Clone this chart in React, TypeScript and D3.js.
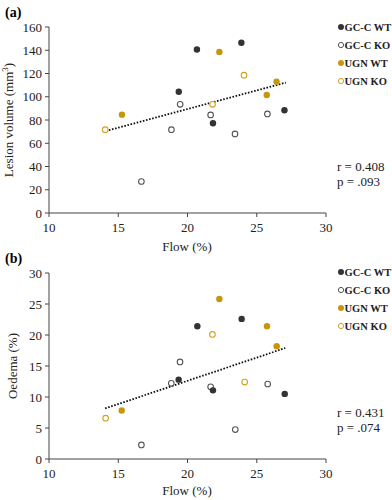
import React from "react";
import * as d3 from "d3";

type Pt = { flow: number; v: number; g: string };

const groups = ["GC-C WT", "GC-C KO", "UGN WT", "UGN KO"];
const groupColor = ["#333333", "#555555", "#C8960C", "#D4A020"];
const groupFilled = [true, false, true, false];

// Panel (a) Lesion volume
const lesionGroup = ["UGN KO","UGN WT","GC-C KO","GC-C KO","GC-C WT","GC-C KO","GC-C WT","GC-C WT","UGN WT","UGN KO","UGN WT","UGN WT","UGN KO","GC-C KO","GC-C WT","GC-C KO","GC-C WT","GC-C KO"];
const lesionFlow = [14.06,15.27,16.67,18.84,19.37,19.47,20.68,23.89,22.3,24.08,26.43,25.72,21.81,21.67,21.84,25.77,27.0,23.43];
const lesionVal = [71.7,84.6,27.1,71.7,104.3,93.5,140.7,146.4,138.6,118.6,112.9,101.5,93.5,84.4,77.2,85.2,88.4,68.0];
const lesionTrendX = [14.1, 27.1];
const lesionTrendY = [70.5, 112.2];

// Panel (b) Oedema
const oedemaGroup = ["UGN KO","UGN WT","GC-C KO","GC-C KO","GC-C WT","GC-C KO","GC-C WT","UGN WT","GC-C WT","UGN KO","UGN WT","UGN WT","UGN KO","GC-C KO","GC-C WT","GC-C KO","GC-C WT","GC-C KO"];
const oedemaFlow = [14.09,15.25,16.67,18.83,19.36,19.46,20.71,22.3,23.91,21.8,25.74,26.44,24.13,21.67,21.84,25.79,27.02,23.45];
const oedemaVal = [6.58,7.83,2.27,12.2,12.8,15.65,21.4,25.8,22.6,20.1,21.4,18.2,12.4,11.65,11.07,12.1,10.5,4.75];
const oedemaTrendX = [14.05, 27.06];
const oedemaTrendY = [8.15, 17.9];

const xTicks = [10, 15, 20, 25, 30];
const lesionTicks = [0, 20, 40, 60, 80, 100, 120, 140, 160];
const oedemaTicks = [0, 5, 10, 15, 20, 25, 30];

const FONT = "'Liberation Serif', 'Times New Roman', serif";
const AXIS = "#444";

function Panel(props: {
  top: number; bottom: number; yMax: number; yTicks: number[];
  flows: number[]; vals: number[]; grp: string[];
  tx: number[]; ty: number[]; label: string; ylabel: React.ReactNode;
  r: string; p: string; legendY: number; statsY: number; xLabelY: number;
}) {
  const x = d3.scaleLinear().domain([10, 30]).range([49, 326]);
  const y = d3.scaleLinear().domain([0, props.yMax]).range([props.bottom, props.top]);
  const pts: Pt[] = props.flows.map((f, i) => ({ flow: f, v: props.vals[i], g: props.grp[i] }));
  const line = d3.line<number>().x((d, i) => x(props.tx[i])).y((d, i) => y(props.ty[i]));
  return (
    <g>
      <text x={5} y={props.top - 10} fontSize={14} fontWeight="bold" fontFamily={FONT}>{props.label}</text>
      {/* y axis */}
      <line x1={x(10)} x2={x(10)} y1={y(0)} y2={y(props.yMax)} stroke={AXIS} strokeWidth={1} />
      {props.yTicks.map((t) => (
        <g key={"y" + t}>
          <line x1={x(10) - 4} x2={x(10)} y1={y(t)} y2={y(t)} stroke={AXIS} />
          <text x={x(10) - 7} y={y(t)} dy="0.35em" textAnchor="end" fontSize={13} fontFamily={FONT} fill="#222">{t}</text>
        </g>
      ))}
      {/* x axis */}
      <line x1={x(10)} x2={x(30)} y1={y(0)} y2={y(0)} stroke={AXIS} strokeWidth={1} />
      {xTicks.map((t) => (
        <g key={"x" + t}>
          <line x1={x(t)} x2={x(t)} y1={y(0)} y2={y(0) + 4} stroke={AXIS} />
          <text x={x(t)} y={y(0) + 19} textAnchor="middle" fontSize={13} fontFamily={FONT} fill="#222">{t}</text>
        </g>
      ))}
      <text x={187} y={props.xLabelY} textAnchor="middle" fontSize={13} fontFamily={FONT} fill="#222">Flow (%)</text>
      <text transform={`translate(${props.label === "(a)" ? 13 : 17},${(props.top + props.bottom) / 2}) rotate(-90)`} textAnchor="middle" fontSize={13} fontFamily={FONT} fill="#222">{props.ylabel}</text>
      {/* trend */}
      <path d={line([0, 1]) || ""} stroke="#111" strokeWidth={1.8} strokeDasharray="1.6,1.6" fill="none" />
      {/* points */}
      {pts.map((d, i) => {
        const gi = groups.indexOf(d.g);
        return groupFilled[gi] ? (
          <circle key={i} cx={x(d.flow)} cy={y(d.v)} r={3.2} fill={groupColor[gi]} />
        ) : (
          <circle key={i} cx={x(d.flow)} cy={y(d.v)} r={2.8} fill="white" stroke={groupColor[gi]} strokeWidth={1.1} />
        );
      })}
      {/* legend */}
      {groups.map((g, i) => {
        const ly = props.legendY + i * 18;
        return (
          <g key={g}>
            {groupFilled[i] ? (
              <circle cx={341} cy={ly} r={3} fill={groupColor[i]} />
            ) : (
              <circle cx={341} cy={ly} r={2.6} fill="white" stroke={groupColor[i]} strokeWidth={1} />
            )}
            <text x={344.5} y={ly} dy="0.35em" fontSize={10.5} fontWeight="bold" fontFamily={FONT} fill="#222">{g}</text>
          </g>
        );
      })}
      <text x={337} y={props.statsY} dy="0.35em" fontSize={13} fontFamily={FONT} fill="#222">{props.r}</text>
      <text x={337} y={props.statsY + 15} dy="0.35em" fontSize={13} fontFamily={FONT} fill="#222">{props.p}</text>
    </g>
  );
}

export default function App() {
  return (
    <svg width={392} height={500} style={{ position: "absolute", left: 0, top: 0, background: "white" }}>
      <rect width={392} height={500} fill="white" />
      <Panel top={27} bottom={213} yMax={160} yTicks={lesionTicks}
        flows={lesionFlow} vals={lesionVal} grp={lesionGroup}
        tx={lesionTrendX} ty={lesionTrendY} label="(a)"
        ylabel={<>Lesion volume (mm<tspan fontSize={9} dy={-5}>3</tspan><tspan dy={5}>)</tspan></>}
        r="r = 0.408" p="p = .093" legendY={27} statsY={166} xLabelY={251} />
      <Panel top={273} bottom={459} yMax={30} yTicks={oedemaTicks}
        flows={oedemaFlow} vals={oedemaVal} grp={oedemaGroup}
        tx={oedemaTrendX} ty={oedemaTrendY} label="(b)"
        ylabel={<>Oedema (%)</>}
        r="r = 0.431" p="p = .074" legendY={272} statsY={412} xLabelY={495} />
    </svg>
  );
}
